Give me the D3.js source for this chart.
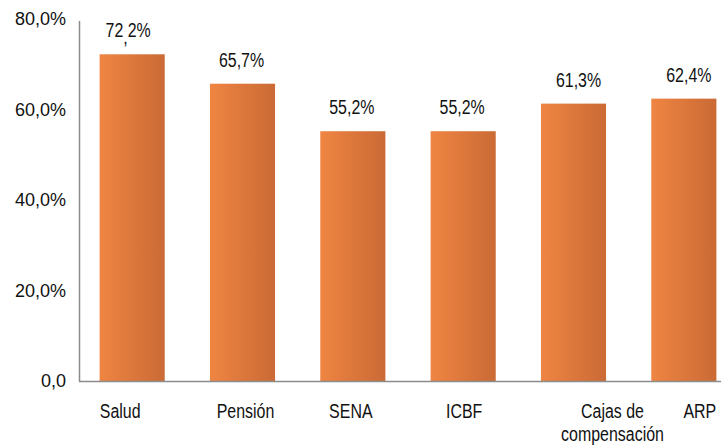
<!DOCTYPE html>
<html>
<head>
<meta charset="utf-8">
<script src="https://cdn.jsdelivr.net/npm/d3@7"></script>
<style>
  body { margin: 0; background: #fff; }
  svg { display: block; }
</style>
</head>
<body>
<div id="chart"></div>
<script>
const categories = ['Salud', 'Pensión', 'SENA', 'ICBF', 'Cajas de compensación', 'ARP']
const values = [72.2, 65.7, 55.2, 55.2, 61.3, 62.4]
const valueLabels = ['72,2%', '65,7%', '55,2%', '55,2%', '61,3%', '62,4%']
const yTicks = [0, 20, 40, 60, 80]
const yTickLabels = ['0,0', '20,0%', '40,0%', '60,0%', '80,0%']

const width = 721, height = 447
const font = '"Liberation Sans", Arial, sans-serif'
const squeeze = 0.76 // labels in the picture use a condensed face

const svg = d3.select('#chart').append('svg')
  .attr('width', width)
  .attr('height', height)
  .attr('viewBox', `0 0 ${width} ${height}`)

const defs = svg.append('defs')
const grad = defs.append('linearGradient')
  .attr('id', 'barGrad')
  .attr('x1', '0%').attr('x2', '100%')
  .attr('y1', '0%').attr('y2', '0%')
grad.append('stop').attr('offset', '0%').attr('stop-color', '#ef8542')
grad.append('stop').attr('offset', '100%').attr('stop-color', '#ca6a35')

const x = d3.scaleBand()
  .domain(categories)
  .range([77, 739])
  .paddingInner(0.41)
  .paddingOuter(0.205)

const y = d3.scaleLinear()
  .domain([0, 80])
  .range([381, 19])

// y axis labels
svg.append('g')
  .selectAll('text')
  .data(yTicks)
  .join('text')
    .attr('x', 66)
    .attr('y', d => y(d))
    .attr('dy', '0.36em')
    .attr('text-anchor', 'end')
    .attr('font-family', font)
    .attr('font-size', 18)
    .attr('fill', '#111')
    .text((d, i) => yTickLabels[i])

// bars
svg.append('g')
  .selectAll('rect')
  .data(values)
  .join('rect')
    .attr('x', (d, i) => x(categories[i]))
    .attr('y', d => y(d))
    .attr('width', x.bandwidth())
    .attr('height', d => y(0) - y(d))
    .attr('fill', 'url(#barGrad)')

// axes lines
svg.append('line')
  .attr('x1', 79.5).attr('x2', 79.5)
  .attr('y1', 21).attr('y2', 381.5)
  .attr('stroke', '#8c8c8c')
  .attr('stroke-width', 1.5)
svg.append('line')
  .attr('x1', 79).attr('x2', width)
  .attr('y1', 381.5).attr('y2', 381.5)
  .attr('stroke', '#8c8c8c')
  .attr('stroke-width', 1.5)

// value labels
const valShift = [-4, -1, -1, -1, 5, 5]
const valText = svg.append('g')
  .selectAll('g')
  .data(values)
  .join('g')
    .attr('transform', (d, i) => {
      const cx = x(categories[i]) + x.bandwidth() / 2 + valShift[i]
      return `translate(${cx},${y(d) - 17}) scale(${squeeze},1)`
    })
  .append('text')
    .attr('text-anchor', 'middle')
    .attr('font-family', font)
    .attr('font-size', 21)
    .attr('fill', '#111')

valText.each(function (d, i) {
  const t = d3.select(this)
  const s = valueLabels[i]
  if (i === 0) {
    // the first label shows its comma dropped below the line
    const parts = s.split(',')
    t.append('tspan').text(parts[0])
    t.append('tspan').attr('dy', 7).text(',')
    t.append('tspan').attr('dy', -7).text(parts[1])
  } else {
    t.text(s)
  }
})

// category labels
const labelShift = [-12, 3, -2, 1, 39, 16]
svg.append('g')
  .selectAll('g')
  .data(categories)
  .join('g')
    .attr('transform', (d, i) => {
      const cx = x(d) + x.bandwidth() / 2 + labelShift[i]
      return `translate(${cx},418) scale(${squeeze},1)`
    })
  .append('text')
    .attr('text-anchor', 'middle')
    .attr('font-family', font)
    .attr('font-size', 21)
    .attr('fill', '#111')
    .each(function (d) {
      const t = d3.select(this)
      const lines = d === 'Cajas de compensación' ? ['Cajas de', 'compensación'] : [d]
      lines.forEach((ln, k) => {
        t.append('tspan')
          .attr('x', 0)
          .attr('y', k * 23)
          .text(ln)
      })
    })
</script>
</body>
</html>
